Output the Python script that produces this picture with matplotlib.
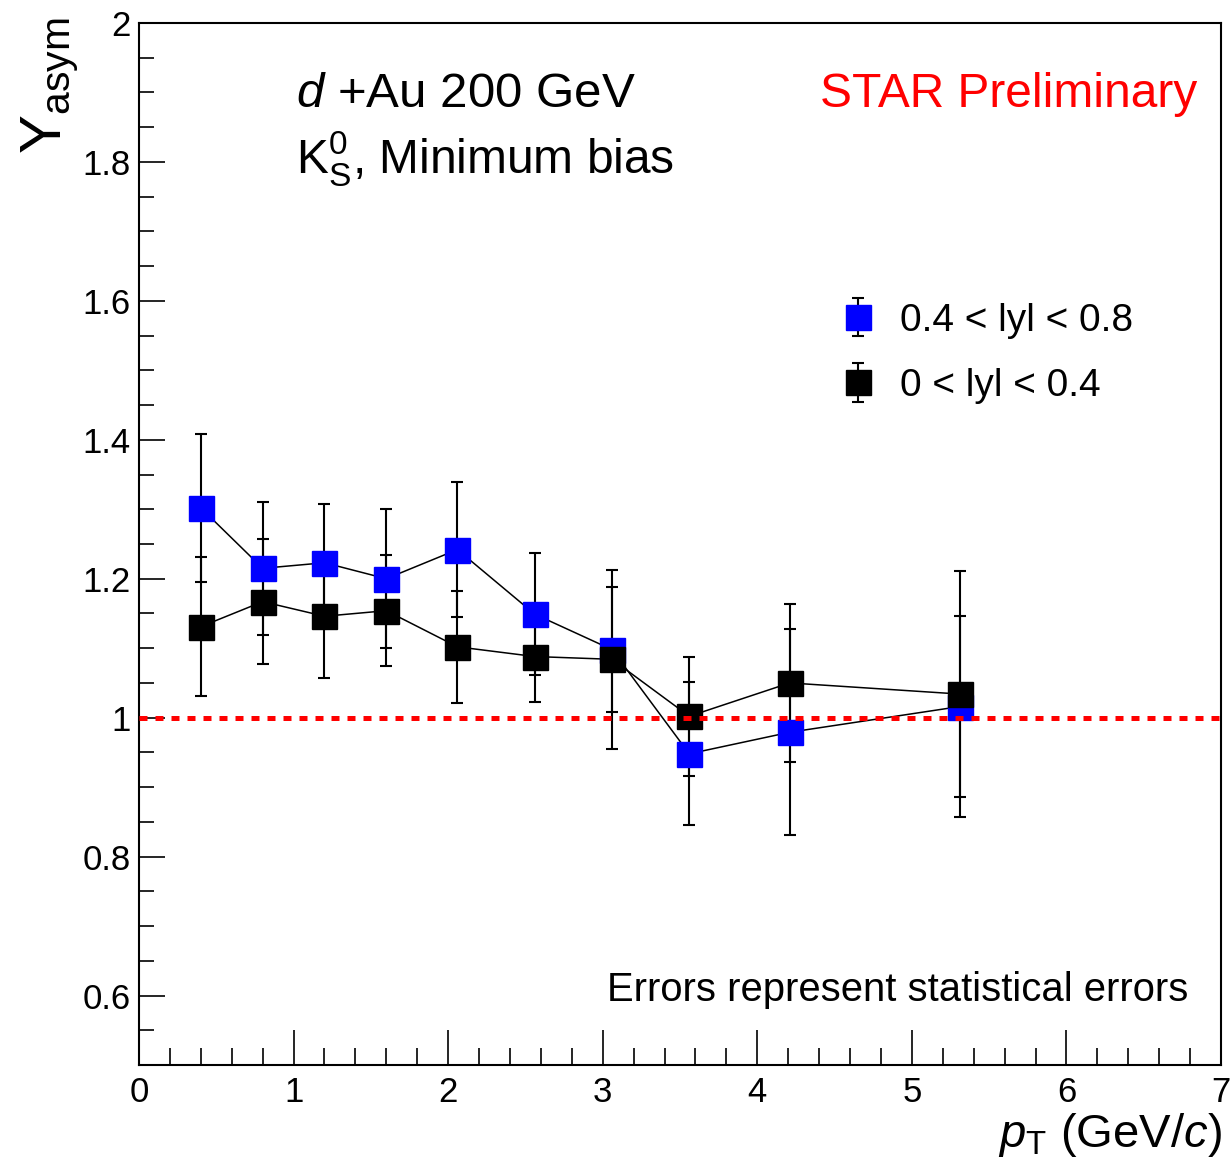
import matplotlib
matplotlib.use("Agg")
import matplotlib.pyplot as plt
from matplotlib.ticker import MultipleLocator, AutoMinorLocator, FuncFormatter

plt.rcParams["font.family"] = ["Liberation Sans", "DejaVu Sans"]
plt.rcParams["mathtext.fontset"] = "custom"
plt.rcParams["mathtext.rm"] = "Liberation Sans"
plt.rcParams["mathtext.it"] = "Liberation Sans:italic"

# Daten
pt = [0.40, 0.80, 1.20, 1.60, 2.06, 2.56, 3.06, 3.56, 4.21, 5.31]

y_fwd = [1.302, 1.215, 1.223, 1.200, 1.242, 1.149, 1.098, 0.948, 0.979, 1.016]
err_fwd = [0.106, 0.096, 0.085, 0.100, 0.097, 0.088, 0.090, 0.103, 0.148, 0.130]

y_mid = [1.131, 1.167, 1.146, 1.154, 1.102, 1.088, 1.084, 1.002, 1.050, 1.034]
err_mid = [0.100, 0.090, 0.089, 0.080, 0.081, 0.066, 0.129, 0.086, 0.114, 0.177]

labels = ["0.4 < lyl < 0.8", "0 < lyl < 0.4"]
colors = ["#0000ff", "black"]

W, H = 1230, 1168
fig = plt.figure(figsize=(W / 100, H / 100), dpi=100)
ax = fig.add_axes([139 / W, 1 - 1065 / H, (1221 - 139) / W, (1065 - 23) / H])

handles = []
for y, e, c in zip([y_fwd, y_mid], [err_fwd, err_mid], colors):
    # Verbindungslinie separat, damit die Legende nur Marker + Fehlerbalken zeigt
    ax.plot(pt, y, color="black", lw=1.1)
    h = ax.errorbar(pt, y, yerr=e, fmt="s", ms=18, mfc=c, mec=c, ecolor="black",
                    elinewidth=1.5, capsize=4, capthick=1.5)
    handles.append(h)

# Referenzlinie bei 1
ax.axhline(1.0, color="#ff0000", lw=3.6, ls=(0, (1.6, 1.6)), zorder=10)

ax.set_xlim(0, 7)
ax.set_ylim(0.5, 2.0)
ax.xaxis.set_major_locator(MultipleLocator(1))
ax.xaxis.set_minor_locator(AutoMinorLocator(5))
ax.yaxis.set_major_locator(MultipleLocator(0.2))
ax.yaxis.set_minor_locator(AutoMinorLocator(4))
ax.yaxis.set_major_formatter(FuncFormatter(lambda v, p: "%g" % round(v, 3)))

ax.tick_params(axis="both", which="both", direction="in", top=False, right=False,
               width=1.2, labelsize=25)
ax.tick_params(axis="x", which="major", length=25, pad=8)
ax.tick_params(axis="x", which="minor", length=12)
ax.tick_params(axis="y", which="major", length=19, pad=6)
ax.tick_params(axis="y", which="minor", length=11)
for s in ax.spines.values():
    s.set_linewidth(1.5)

# Achsentitel
fig.text(50 / W, 1 - 18 / H, r"$\mathrm{Y}_{\mathrm{asym}}$", rotation=90,
         ha="center", va="top", fontsize=42)
fig.text(1222 / W, 1 - 1147 / H, r"$p_{\mathrm{T}}$ (GeV/$c$)", ha="right",
         va="baseline", fontsize=34)

# Beschriftungen
fig.text(296 / W, 1 - 107 / H, r"$d$ +Au 200 GeV", ha="left", va="baseline", fontsize=35.5)
fig.text(296 / W, 1 - 173 / H, r"K$_{\mathrm{S}}^{0}$, Minimum bias", ha="left",
         va="baseline", fontsize=34.5)
fig.text(1197 / W, 1 - 107 / H, "STAR Preliminary", ha="right", va="baseline",
         fontsize=34.5, color="#ff0000")
fig.text(1188 / W, 1 - 1001 / H, "Errors represent statistical errors", ha="right",
         va="baseline", fontsize=28.8)

ax.legend(handles, labels, loc="upper left", bbox_to_anchor=(827 / W, 1 - 287 / H),
          bbox_transform=fig.transFigure, frameon=False, fontsize=28,
          handlelength=0.8, handletextpad=0.68, labelspacing=0.75, borderaxespad=0)

fig.savefig("out.png", dpi=100)
